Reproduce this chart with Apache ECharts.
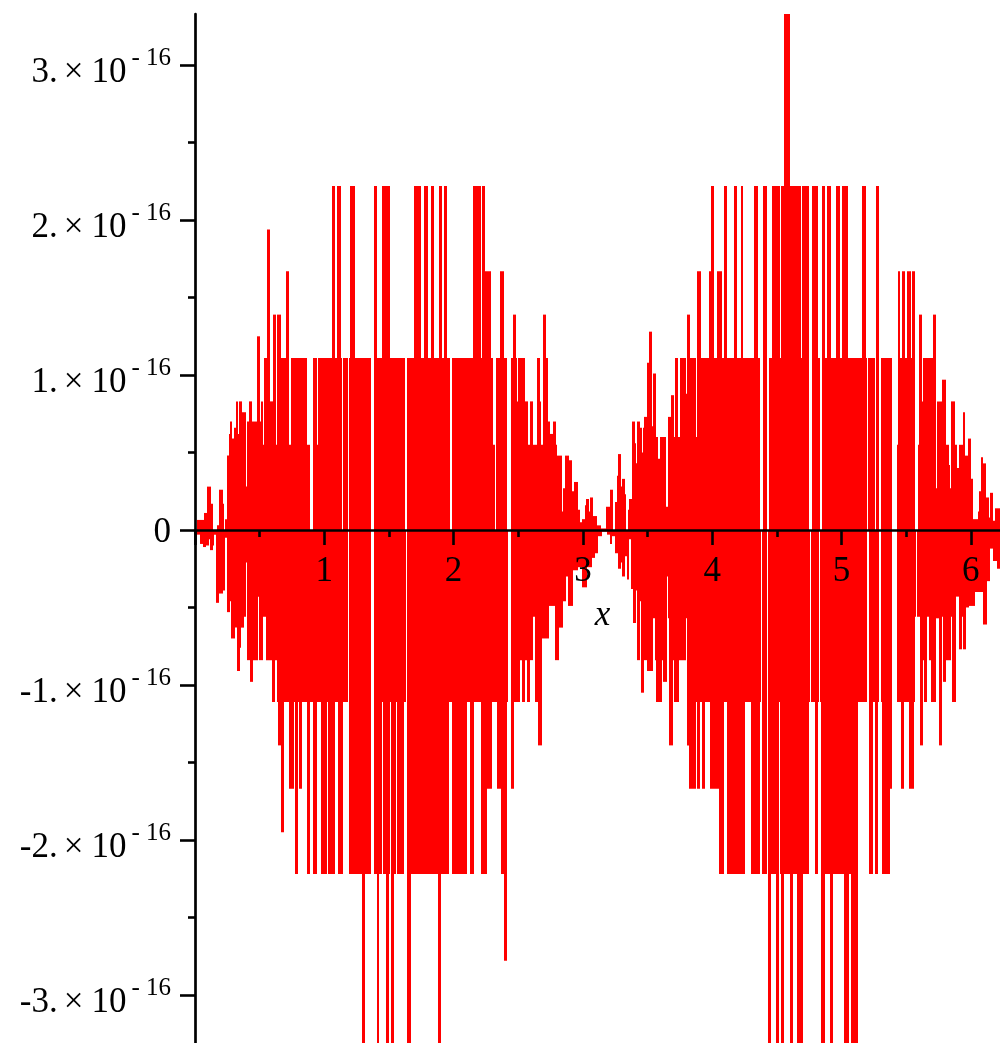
<!DOCTYPE html>
<html>
<head>
<meta charset="utf-8">
<style>html,body{margin:0;padding:0;background:#fff;overflow:hidden}#c{width:1000px;height:1043px}</style>
<script src="https://cdn.jsdelivr.net/npm/echarts@6/dist/echarts.min.js"></script>
</head>
<body>
<div id="c"></div>
<script>
// y values are in units of 1e-16. Each pair [x, y] holds y from x until the next pair's x.
const upperRuns = [[0,0],[.018,.065],[.070,.11],[.095,.28],[.121,.17],[.139,0],[.173,.03],[.188,.26],[.214,.17],[.224,0],[.235,.07],[.250,.48],[.260,.62],[.271,.70],[.289,.59],[.302,.66],[.314,.83],[.335,.62],[.343,.83],[.361,.76],[.394,.28],[.405,.70],[.418,.83],[.441,.70],[.479,1.25],[.500,.70],[.508,.83],[.528,.55],[.534,1.11],[.559,1.94],[.580,.83],[.603,1.39],[.626,.55],[.637,1.39],[.662,1.11],[.704,1.67],[.727,.55],[.745,1.11],[.863,.55],[.892,0],[.912,1.11],[.943,.55],[.948,1.11],[1.059,2.22],[1.082,1.11],[1.098,2.22],[1.129,1.11],[1.139,0],[1.144,1.11],[1.183,0],[1.191,1.11],[1.198,2.22],[1.237,1.11],[1.358,0],[1.384,2.22],[1.407,1.11],[1.446,2.22],[1.508,1.11],
[1.624,0],[1.639,1.11],[1.693,2.22],[1.747,1.11],[1.773,2.22],[1.802,1.11],[1.825,2.22],[1.848,1.11],[1.887,2.22],[1.910,1.11],[1.925,2.22],[1.951,1.11],[1.972,0],[1.985,1.11],[2.149,2.22],[2.211,1.11],[2.216,2.22],[2.242,1.67],[2.289,1.11],[2.304,.55],[2.320,0],[2.327,1.11],[2.358,1.67],[2.387,1.11],[2.410,0],[2.443,1.11],[2.459,1.39],[2.482,1.11],[2.492,.83],[2.500,1.11],[2.552,.83],[2.577,.55],[2.590,.83],[2.616,.55],[2.644,1.11],[2.668,.83],[2.675,.55],[2.688,1.39],[2.714,1.11],[2.729,.70],[2.745,.62],[2.765,.70],[2.789,.55],[2.802,.48],[2.840,.12],[2.848,.27],[2.863,.48],[2.889,.45],[2.915,.25],[2.930,.31],[2.959,.13],[2.977,.05],[2.995,.07],[3.015,.16],[3.023,.20],[3.046,.12],[3.054,.21],[3.075,.09],[3.111,.03],[3.137,.01],[3.178,.15],
[3.209,.26],[3.229,0],[3.247,.18],[3.260,.35],[3.273,.49],[3.296,.28],[3.304,.33],[3.322,.23],[3.332,0],[3.351,.13],[3.358,.20],[3.379,.70],[3.402,.56],[3.412,.43],[3.418,.70],[3.438,.66],[3.456,.50],[3.464,.66],[3.474,.73],[3.495,1.08],[3.513,1.28],[3.536,.67],[3.544,1.01],[3.567,.60],[3.580,.46],[3.593,.60],[3.644,.15],[3.655,.73],[3.680,.87],[3.704,.60],[3.711,1.11],[3.732,.60],[3.750,1.11],[3.797,.88],[3.802,1.39],[3.825,1.11],[3.874,.60],[3.881,1.67],[3.910,1.11],[3.974,1.67],[3.990,2.22],[4.013,1.11],[4.036,1.67],[4.072,1.11],[4.093,2.22],[4.116,1.11],[4.168,2.22],[4.191,1.11],[4.219,2.22],[4.242,1.11],[4.327,2.22],[4.351,1.11],[4.371,0],[4.392,2.22],[4.420,0],[4.438,1.11],[4.466,2.22],[4.490,1.11],[4.497,2.22],[4.521,1.11],[4.531,2.22],[4.554,3.33],[4.577,2.8],[4.582,3.33],[4.603,2.22],[4.688,1.11],[4.693,2.22],
[4.745,0],[4.771,2.22],[4.815,1.11],[4.832,0],[4.851,2.22],[4.874,1.11],[4.887,2.22],[4.918,1.11],[4.961,2.22],[4.992,1.11],[5.000,2.22],[5.054,1.11],[5.160,2.22],[5.186,1.11],[5.196,0],[5.204,1.11],[5.258,0],[5.266,2.22],[5.289,0],[5.302,1.11],[5.394,0],[5.428,.55],[5.436,1.67],[5.456,1.11],[5.466,1.67],[5.492,1.11],[5.510,1.67],[5.536,1.11],[5.546,1.67],[5.572,0],[5.588,.55],[5.601,1.39],[5.626,.83],[5.634,1.11],[5.704,1.39],[5.729,.27],[5.742,.83],[5.781,.97],[5.812,.55],[5.830,.42],[5.838,.27],[5.848,.83],[5.874,.55],[5.894,.40],[5.907,.55],[5.936,.76],[5.959,.48],[5.982,.59],[6.005,.33],[6.018,.07],[6.052,.12],[6.064,.25],[6.077,.47],[6.098,.43],[6.121,.21],[6.139,.08],[6.152,.24],[6.175,.06],[6.188,.14],[6.300,.12]];
const lowerRuns = [[0,0],[.013,-.03],[.039,-.09],[.064,-.11],[.085,-.10],[.111,-.06],[.116,-.13],[.137,-.10],[.147,-.03],[.162,-.47],[.188,-.41],[.214,-.39],[.232,-.05],[.247,-.53],[.271,-.46],[.278,-.70],[.307,-.63],[.325,-.91],[.348,-.76],[.356,-.63],[.379,-.56],[.392,-.21],[.405,-.84],[.425,-.98],[.448,-.84],[.490,-.43],[.495,-.84],[.523,-.56],[.546,-.84],[.593,-1.11],[.619,-.84],[.634,-1.11],[.644,-1.39],[.665,-1.95],[.688,-1.11],[.727,-1.67],[.765,-1.11],[.773,-2.22],[.796,-1.11],[.804,-1.67],[.827,-1.11],[.863,-2.22],[.889,-1.11],[.894,-.56],[.899,-1.11],[.912,-2.22],[.941,-1.11],[.977,-2.22],[1.018,-1.11],[1.028,-2.22],[1.085,-1.11],[1.106,-2.22],[1.144,-1.11],[1.186,0],[1.191,-2.22],[1.289,-3.33],[1.314,-2.22],[1.358,0],[1.384,-2.22],[1.410,-3.33],[1.423,-2.22],[1.446,-1.11],[1.454,-2.22],[1.474,-3.33],[1.500,-2.22],[1.508,-1.11],[1.515,-3.33],[1.539,-2.22],[1.554,-1.11],
[1.559,-2.22],[1.616,-1.11],[1.629,0],[1.637,-2.22],[1.642,-3.33],[1.668,-2.22],[1.879,-3.33],[1.900,-2.22],[1.966,-1.11],[1.985,-2.22],[2.103,-1.11],[2.124,-2.22],[2.155,-1.11],[2.211,-2.22],[2.258,-1.67],[2.294,-1.11],[2.338,-1.67],[2.366,-2.22],[2.387,-2.78],[2.410,-1.11],[2.418,0],[2.443,-1.67],[2.466,-1.11],[2.513,-.84],[2.526,-1.11],[2.552,-.84],[2.564,-1.11],[2.590,-.84],[2.611,-.56],[2.626,-1.11],[2.655,-1.39],[2.680,-.70],[2.740,-.49],[2.786,-.84],[2.817,-.63],[2.843,-.46],[2.869,-.30],[2.884,-.49],[2.920,-.26],[2.964,-.24],[2.995,-.37],[3.031,-.24],[3.067,-.18],[3.093,-.15],[3.119,-.04],[3.144,-.01],[3.183,-.03],
[3.209,-.09],[3.222,-.04],[3.247,-.15],[3.271,-.25],[3.291,-.21],[3.302,-.30],[3.325,-.17],[3.338,-.32],[3.358,-.06],[3.371,-.38],[3.389,-.60],[3.407,-.39],[3.418,-.84],[3.441,-.46],[3.451,-1.05],[3.474,-.84],[3.495,-.57],[3.497,-.91],[3.544,-.57],[3.557,-.84],[3.564,-1.11],[3.608,-.84],[3.621,-.98],[3.647,-.30],[3.655,-.57],[3.668,-1.39],[3.693,-.84],[3.704,-1.11],[3.747,-.84],[3.796,-.57],[3.807,-1.39],[3.820,-1.67],[3.874,-1.11],[3.881,-1.67],[3.905,-1.11],[3.920,-1.67],[3.943,-1.11],[3.982,-1.67],[4.052,-2.22],[4.090,-1.11],[4.113,-2.22],[4.253,-1.11],[4.299,-2.22],[4.369,-1.11],[4.381,0],[4.389,-2.22],[4.423,0],[4.430,-3.33],[4.454,-2.22],[4.493,-3.33],[4.515,-1.11],[4.523,-2.22],[4.531,-3.33],[4.557,-2.22],[4.601,-3.33],[4.624,-2.22],[4.655,-3.33],[4.701,-2.22],
[4.747,-1.11],[4.755,0],[4.765,-1.11],[4.794,-2.22],[4.820,-1.11],[4.827,0],[4.835,-1.11],[4.843,-3.33],[4.871,-2.22],[4.910,-3.33],[4.933,-2.22],[5.018,-3.33],[5.059,-2.22],[5.077,-3.33],[5.124,-1.11],[5.201,0],[5.209,-1.11],[5.216,-2.22],[5.242,-1.11],[5.258,-2.22],[5.281,-1.11],[5.289,0],[5.304,-1.11],[5.317,-2.22],[5.374,-1.67],[5.394,0],[5.428,-1.11],[5.459,-1.67],[5.482,-1.11],[5.521,-1.67],[5.557,-1.11],[5.564,-.56],[5.577,0],[5.585,-.56],[5.606,-1.39],[5.629,-.84],[5.637,-1.11],[5.660,-.56],[5.675,-.84],[5.691,-1.11],[5.729,-.57],[5.753,-1.39],[5.776,-.56],[5.784,-.98],[5.807,-.84],[5.845,-.56],[5.858,-1.11],[5.884,-.43],[5.905,-.77],[5.930,-.56],[5.938,-.77],[5.961,-.50],[5.985,-.49],[6.036,-.40],[6.096,-.61],[6.124,-.33],[6.147,-.12],[6.168,-.20],[6.199,-.25],[6.300,-.20]];

const yMajorTicks = [-3,-2,-1,0,1,2,3];
const yMinorTicks = [-2.5,-1.5,-.5,.5,1.5,2.5];
const yMantissa = {'-3':'-3.','-2':'-2.','-1':'-1.','1':'1.','2':'2.','3':'3.'};
const yExponent = '- 16';
const xMax = 7, yLimit = 3.33;
const FONT = '"Liberation Serif","Times New Roman",serif';

const toCells = runs => runs.slice(0,-1).map((r,i)=>[r[0],runs[i+1][0],r[1]]);
const renderRun = (params, api) => {
  const a = api.coord([api.value(0), api.value(2)]);
  const b = api.coord([api.value(1), 0]);
  const x0 = Math.round(a[0]), x1 = Math.round(b[0]);
  return {type:'rect', shape:{x:x0, y:Math.min(a[1],b[1]), width:Math.max(1,x1-x0), height:Math.abs(b[1]-a[1])},
          style:{fill:'#ff0000'}};
};
const envelope = (name, runs) => ({
  name, type:'custom', coordinateSystem:'cartesian2d', xAxisIndex:0, yAxisIndex:0,
  data: toCells(runs), encode:{x:[0,1], y:2}, renderItem:renderRun, clip:true, silent:true, animation:false, z:2
});

const chart = echarts.init(document.getElementById('c'), null, {renderer:'canvas'});
chart.setOption({
  animation:false,
  backgroundColor:'#ffffff',
  grid:{left:195, top:14, width:129.3*xMax, height:1032, containLabel:false, outerBoundsMode:'none'},
  xAxis:[{
    type:'value', min:0, max:xMax, interval:1, z:5,
    axisLine:{show:true,onZero:true,lineStyle:{color:'#000',width:2.6}},
    axisTick:{show:true,length:15,lineStyle:{color:'#000',width:2.6}},
    minorTick:{show:true,splitNumber:2,length:7,lineStyle:{color:'#000',width:2.6}},
    splitLine:{show:false}, minorSplitLine:{show:false},
    axisLabel:{show:true,showMinLabel:false,showMaxLabel:false,margin:-492,color:'#000',fontFamily:FONT,fontSize:35},
    name:'x', nameLocation:'middle', nameGap:-448,
    nameTextStyle:{color:'#000',fontFamily:FONT,fontStyle:'italic',fontSize:35,padding:[0,90,0,0]}
  }],
  yAxis:[{
    type:'value', min:-yLimit, max:yLimit, position:'left', z:5,
    axisLine:{show:true,onZero:false,lineStyle:{color:'#000',width:2.7}},
    axisTick:{show:true,length:15,customValues:yMajorTicks,lineStyle:{color:'#000',width:2.6}},
    splitLine:{show:false},
    axisLabel:{show:true,margin:24,customValues:yMajorTicks,color:'#000',fontFamily:FONT,padding:[6,0,0,0],
      formatter:v=>{const k=String(Math.round(v));return k==='0'?'{z|0}':'{b|'+yMantissa[k]+'}{x|×}{b|10}{g| }{s|'+yExponent+'}';},
      rich:{
        z:{fontSize:35,fontFamily:FONT,color:'#000'},
        b:{fontSize:35,fontFamily:FONT,color:'#000',verticalAlign:'bottom',lineHeight:44},
        x:{fontSize:35,fontFamily:FONT,color:'#000',verticalAlign:'bottom',lineHeight:44,padding:[0,8,0,6]},
        g:{fontSize:16,fontFamily:FONT,verticalAlign:'bottom',lineHeight:44,width:5},
        s:{fontSize:25,fontFamily:FONT,color:'#000',verticalAlign:'top',lineHeight:40}
      }}
  },{
    type:'value', min:-yLimit, max:yLimit, position:'left', z:5,
    axisLine:{show:false,onZero:false},
    axisTick:{show:true,length:7,customValues:yMinorTicks,lineStyle:{color:'#000',width:2.6}},
    axisLabel:{show:false}, splitLine:{show:false}
  }],
  series:[envelope('upper',upperRuns), envelope('lower',lowerRuns)]
});
</script>
</body>
</html>
